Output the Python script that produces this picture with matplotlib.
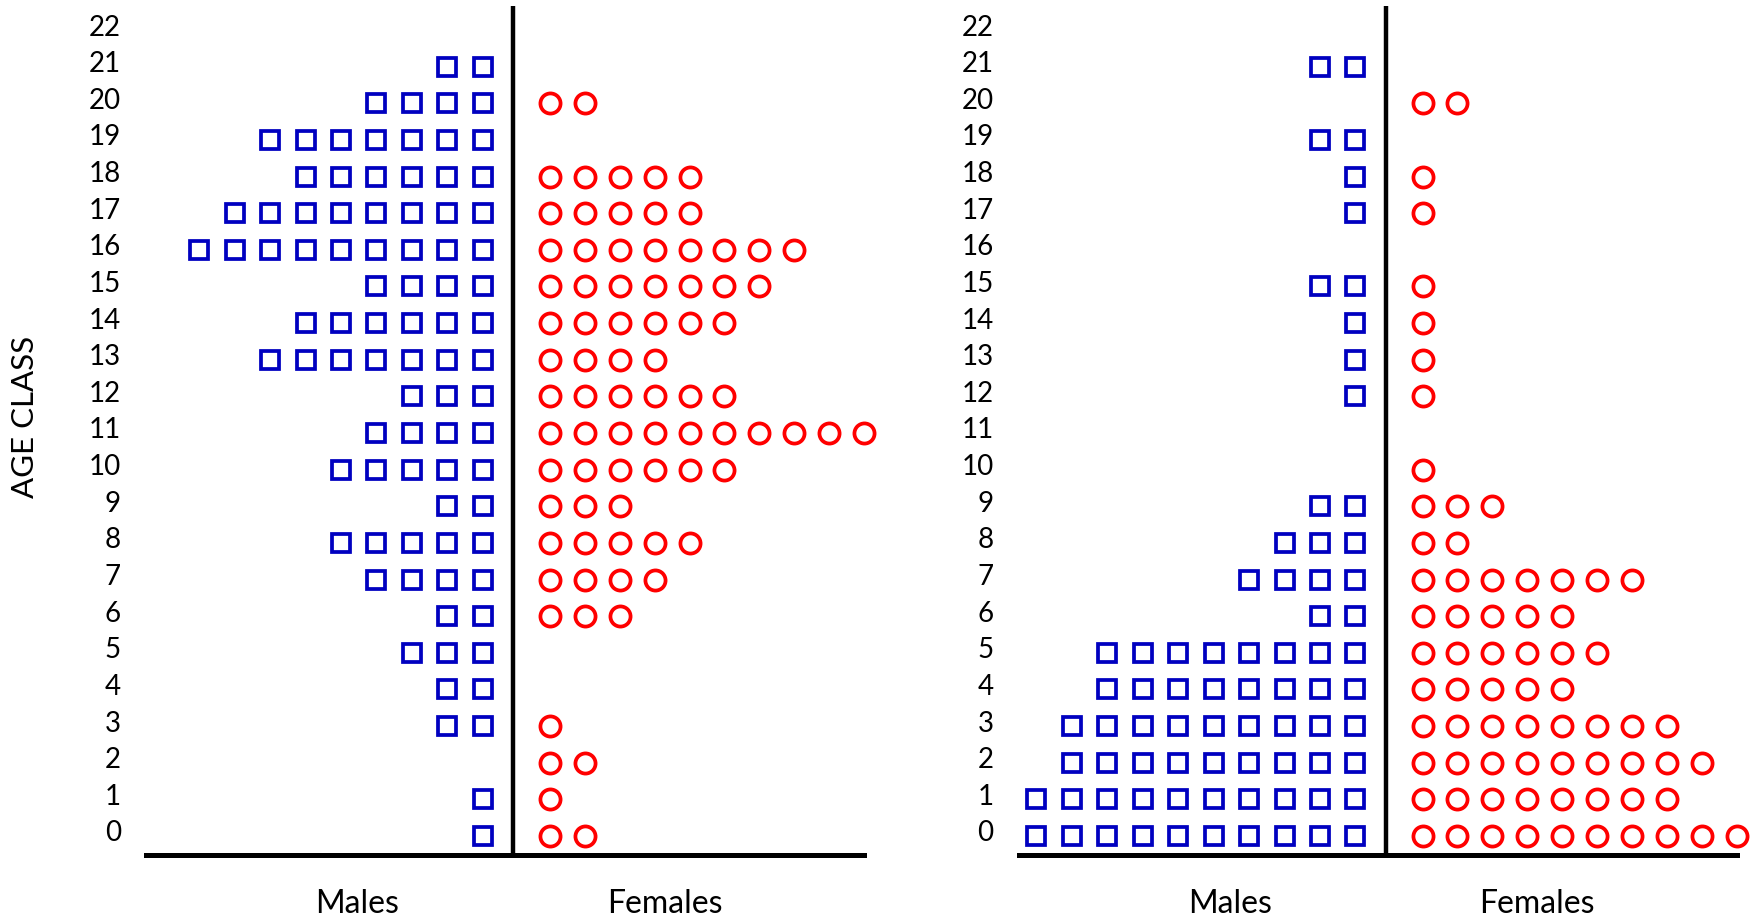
import numpy as np
import matplotlib
matplotlib.use("Agg")
import matplotlib.pyplot as plt
from matplotlib.transforms import ScaledTranslation

# Age classes 0..22, counts per sex for each population
ages = list(range(23))
males_a = [1, 1, 0, 2, 2, 3, 2, 4, 5, 2, 5, 4, 3, 7, 6, 4, 9, 8, 6, 7, 4, 2, 0]
females_a = [2, 1, 2, 1, 0, 0, 3, 4, 5, 3, 6, 10, 6, 4, 6, 7, 8, 5, 5, 0, 2, 0, 0]
males_b = [10, 10, 9, 9, 8, 8, 2, 4, 3, 2, 0, 0, 1, 1, 1, 2, 0, 1, 1, 2, 0, 2, 0]
females_b = [10, 8, 9, 8, 5, 6, 5, 7, 2, 3, 1, 0, 1, 1, 1, 1, 0, 1, 1, 0, 2, 0, 0]

side_labels = ["Males", "Females"]
y_title = "AGE CLASS"

plt.rcParams['font.family'] = ['Lato', 'DejaVu Sans']

BLUE = '#0000C0'
RED = '#FF0000'

fig = plt.figure(figsize=(17.59, 9.22), dpi=100)
ax_l = fig.add_axes([0.0830, 0.0727, 0.4082, 0.9213])
ax_r = fig.add_axes([0.5791, 0.0727, 0.4082, 0.9213])


def draw_panel(ax, males, females):
    for age, nm, nf in zip(ages, males, females):
        if nm:
            xs = -0.85 - np.arange(nm)
            ax.plot(xs, [age] * nm, ls='none', marker='s', ms=13,
                    mfc='none', mec=BLUE, mew=2.7, clip_on=False)
        if nf:
            xs = 1.04 + 0.985 * np.arange(nf)
            ax.plot(xs, [age] * nf, ls='none', marker='o', ms=14.5,
                    mfc='none', mec=RED, mew=2.7, clip_on=False)
    ax.axvline(0, color='black', lw=3.2)
    ax.set_xlim(-10.35, 9.9)
    ax.set_ylim(-0.52, 22.67)
    for s in ['top', 'right', 'left']:
        ax.spines[s].set_visible(False)
    ax.spines['bottom'].set_linewidth(3.6)
    ax.set_yticks(ages)
    ax.set_yticklabels([str(a) for a in ages], fontsize=20)
    ax.tick_params(axis='y', length=0, pad=18)
    # tick labels sit a little above the marker rows
    shift = ScaledTranslation(0, 0.05, fig.dpi_scale_trans)
    for lab in ax.get_yticklabels():
        lab.set_transform(lab.get_transform() + shift)
    ax.set_xticks([])
    ax.text(-4.4, -0.058, side_labels[0], transform=ax.get_xaxis_transform(),
            ha='center', va='center', fontsize=23)
    ax.text(4.27, -0.058, side_labels[1], transform=ax.get_xaxis_transform(),
            ha='center', va='center', fontsize=23)


draw_panel(ax_l, males_a, females_a)
draw_panel(ax_r, males_b, females_b)

fig.text(24.7 / 1759, 1 - 417 / 922, y_title, rotation=90,
         ha='center', va='center', fontsize=22.5)

fig.savefig('out.png', dpi=100)
